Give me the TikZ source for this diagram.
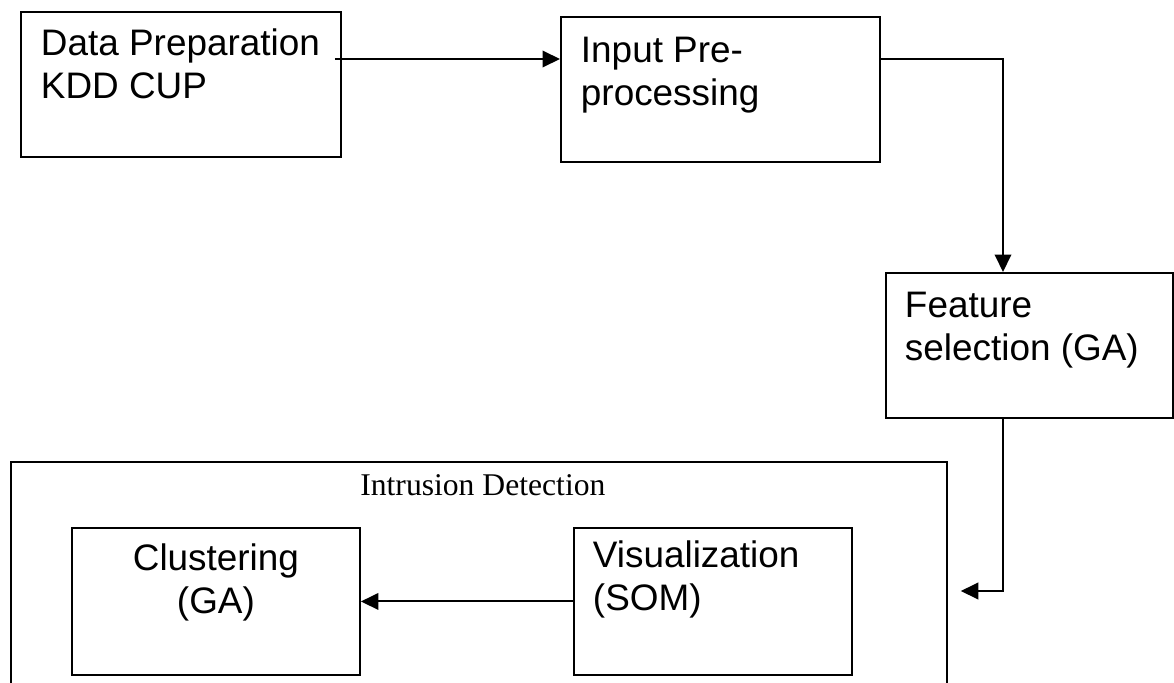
\documentclass[tikz,border=0pt]{standalone}
\usepackage{fontspec}
\setmainfont{Liberation Sans}
\newfontfamily\idsfont{Liberation Serif}
\usetikzlibrary{arrows.meta}

\begin{document}
\begin{tikzpicture}[
  x=0.02cm, y=-0.02cm, line width=1.1pt,
  box/.style={draw, inner sep=0pt, anchor=north west},
  txt/.style={inner sep=0pt, align=left, font=\fontsize{21}{24.4}\selectfont},
  >={Triangle[length=3.5mm, width=3.3mm]}
]
\useasboundingbox (0,0) rectangle (1174,683);
\clip (0,0) rectangle (1174,683);

% boxes
\node[box, minimum width=6.4cm, minimum height=2.9cm] (dp) at (20,11) {};
\node[box, minimum width=6.38cm, minimum height=2.9cm] (ip) at (560,16) {};
\node[box, minimum width=5.74cm, minimum height=2.9cm] (fs) at (885,272) {};
\node[box, minimum width=18.72cm, minimum height=5.4cm] (ids) at (10,461) {};
\node[box, minimum width=5.76cm, minimum height=2.94cm] (cl) at (71,527) {};
\node[box, minimum width=5.56cm, minimum height=2.94cm] (vis) at (573,527) {};

% texts (base = last line)
\node[txt, anchor=base west] (dptext) at ([shift={(20,87)}]dp.north west) {Data Preparation\\KDD CUP};
\node[txt, anchor=base west] (iptext) at ([shift={(20,89)}]ip.north west) {Input Pre-\\processing};
\node[txt, anchor=base west] (fstext) at ([shift={(19,88)}]fs.north west) {Feature\\selection (GA)};
\node[txt, anchor=base west] (vistext) at ([shift={(19,83)}]vis.north west) {Visualization\\(SOM)};
\node[txt, align=center, anchor=base] (cltext) at ([shift={(0,86)}]cl.north) {Clustering\\(GA)};
\node[inner sep=0pt, anchor=base, font=\idsfont\fontsize{18}{21}\selectfont] (idstitle) at ([shift={(4,34)}]ids.north) {Intrusion Detection};

% connectors
\coordinate (dpout) at ([shift={(-7,48)}]dp.north east);
\draw[->] (dpout) -- (ip.west |- dpout);
\draw[->] (ip.east |- dpout) -| ([shift={(118,0)}]fs.north west);
\draw[->] ([shift={(118,0)}]fs.south west) |- ([shift={(13,130)}]ids.north east);
\draw[->] (vis) -- (cl);
\end{tikzpicture}
\end{document}
